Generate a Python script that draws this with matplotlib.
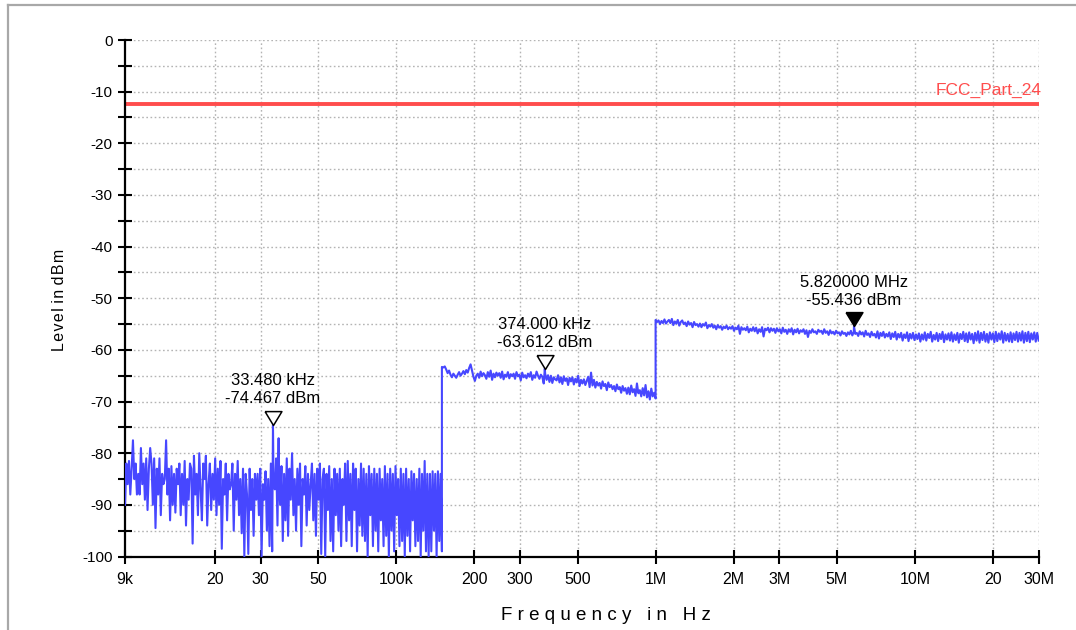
import numpy as np
import matplotlib
matplotlib.use("Agg")
import matplotlib.pyplot as plt
from matplotlib.lines import Line2D

plt.rcParams['font.family'] = ['Liberation Sans', 'DejaVu Sans']

# ---------------- data ----------------
# segment 1: 9 kHz .. 150 kHz (noise floor), levels in dBm
seg1_start, seg1_stop = 9e3, 150e3
seg1_levels = [
    -90, -82, -86, -81.5, -88, -83, -77.5, -85, -82, -88,
    -84, -88, -79, -86, -82, -89, -81, -91, -83, -79,
    -82, -90, -81, -94.5, -83, -88, -81, -92, -84, -86,
    -85, -77.5, -88, -83, -93, -82.5, -90, -84, -91.5, -83,
    -86, -82, -92, -84, -90, -81.5, -94, -85, -89, -82,
    -83, -97.5, -80.5, -88, -84, -92, -80, -87, -93, -82,
    -85, -80.5, -94, -86, -82, -91, -84, -89, -81, -92,
    -83, -90, -81.5, -98.5, -85, -88, -82, -93, -84, -87,
    -86, -82, -95, -84, -89, -81.5, -92, -85, -95.5, -83,
    -100, -84, -88, -99.5, -83, -91, -85, -96, -84, -89,
    -84, -92, -83, -100, -86, -89, -83.5, -95, -85, -98,
    -82, -99, -85, -87, -81, -94, -84, -90, -82.5, -97,
    -84, -93, -81, -96, -83, -89, -80, -92, -85, -95,
    -83, -90, -82, -98, -85, -88, -82.5, -94, -84, -91,
    -86, -82, -93, -84, -96, -83, -89, -82, -99.5, -85,
    -83, -100, -84, -91, -82.5, -97, -85, -99, -83, -92,
    -84, -95, -83, -98, -85, -90, -82, -97, -81.5, -93,
    -84, -98, -82, -91, -83, -99, -85, -94, -82, -96,
    -83, -97, -84, -100, -82.5, -92, -84, -98, -83, -95,
    -84, -99, -83, -93, -85, -98, -82.5, -96, -84, -100,
    -83, -95, -84, -99, -82.5, -92, -85, -98, -83, -97,
    -84, -100, -83, -96, -85, -99, -83.5, -93, -84, -98,
    -85, -97, -83, -100, -84, -95, -81.5, -99, -84, -100,
    -84, -99, -83.5, -95, -84, -100, -83.5, -97, -84, -99,
]

# segment 2: 150 kHz .. 1 MHz
seg2_start, seg2_stop = 150e3, 1e6
seg2_levels = [
    -63.3, -63.4, -63.2, -63.8, -64.5, -64.0, -64.8, -65.3, -64.6, -65.0,
    -65.4, -64.8, -64.3, -65.0, -64.6, -64.1, -64.7, -63.9, -64.4, -63.5,
    -62.8, -64.0, -65.2, -66.0, -65.0, -64.6, -65.4, -64.2, -65.1, -64.5,
    -64.9, -65.6, -64.3, -65.2, -64.0, -65.8, -64.6, -65.3, -64.4, -65.0,
    -64.5, -65.4, -64.2, -65.7, -64.8, -65.2, -64.3, -65.5, -64.7, -65.1,
    -64.6, -65.6, -64.3, -65.1, -64.8, -65.9, -64.4, -65.3, -64.9, -65.5,
    -64.6, -65.2, -64.3, -65.8, -64.9, -65.4, -64.2, -65.0, -65.6, -64.8,
    -65.2, -66.5, -64.6, -65.8, -64.9, -66.2, -65.0, -66.4, -65.3, -65.7,
    -65.9, -64.9, -66.3, -65.3, -66.6, -65.1, -66.0, -65.5, -66.8, -65.4,
    -66.1, -65.3, -66.7, -65.6, -66.3, -65.0, -67.0, -65.8, -66.5, -65.7,
    -66.8, -66.0, -65.2, -67.2, -64.4, -66.9, -65.8, -67.3, -66.2, -66.9,
    -66.4, -67.5, -66.1, -67.0, -66.6, -67.8, -66.3, -67.2, -66.8, -67.6,
    -67.0, -68.0, -66.7, -67.6, -67.2, -68.3, -67.0, -67.9, -67.4, -68.5,
    -67.3, -68.6, -66.9, -68.2, -67.6, -68.9, -66.5, -68.4, -67.8, -69.0,
    -67.4, -68.8, -66.8, -69.2, -68.0, -69.6, -67.5, -69.0, -68.3, -69.4,
]

# segment 3: 1 MHz .. 30 MHz
seg3_start, seg3_stop = 1e6, 30e6
seg3_levels = [
    -54.2, -54.6, -54.3, -55.0, -54.4, -54.8, -54.1, -54.9, -54.5, -54.2,
    -54.8, -54.0, -55.2, -54.5, -54.9, -54.2, -55.3, -54.6, -54.3, -55.0,
    -54.7, -55.4, -54.5, -55.1, -54.8, -55.6, -54.6, -55.2, -55.0, -55.5,
    -54.9, -55.6, -55.0, -55.3, -54.7, -55.8, -55.2, -55.5, -55.0, -55.7,
    -55.3, -56.0, -55.2, -55.7, -55.4, -56.1, -55.5, -55.8, -55.3, -56.0,
    -55.6, -55.9, -55.4, -56.3, -55.7, -56.0, -55.3, -56.9, -55.6, -56.1,
    -55.8, -56.2, -55.5, -56.6, -55.9, -56.3, -55.6, -56.4, -55.7, -56.8,
    -56.0, -56.5, -55.6, -57.4, -55.9, -56.2, -55.7, -56.6, -55.8, -56.3,
    -55.9, -56.7, -55.8, -56.4, -56.0, -56.8, -55.7, -56.5, -56.1, -56.9,
    -56.0, -56.5, -55.8, -57.0, -56.1, -56.6, -55.9, -56.8, -56.2, -56.5,
    -56.0, -56.9, -56.2, -57.5, -56.3, -56.7, -56.0, -56.6, -56.4, -56.9,
    -56.1, -56.5, -56.3, -56.9, -56.0, -56.7, -56.4, -57.1, -56.2, -56.8,
    -56.5, -57.0, -56.3, -56.8, -56.6, -57.2, -56.4, -56.9, -56.7, -57.3,
    -56.6, -57.0, -56.3, -57.2, -56.5, -56.9, -56.7, -57.3, -56.4, -57.0,
    -56.6, -57.4, -56.3, -57.1, -56.8, -57.5, -56.5, -57.2, -56.9, -57.6,
    -56.4, -57.8, -56.7, -57.3, -56.5, -57.6, -56.9, -57.4, -56.6, -57.9,
    -56.8, -57.5, -56.5, -58.0, -56.9, -57.6, -56.7, -58.2, -57.0, -57.7,
    -56.6, -58.3, -56.9, -57.8, -56.7, -58.1, -57.0, -57.9, -56.8, -58.4,
    -57.0, -58.0, -56.6, -58.2, -56.9, -57.7, -56.5, -58.4, -57.1, -58.0,
    -56.7, -58.3, -56.9, -57.9, -56.5, -58.5, -57.0, -58.0, -56.8, -58.2,
    -56.6, -58.4, -57.0, -58.1, -56.7, -58.6, -56.9, -57.9, -56.5, -58.3,
    -56.8, -58.5, -56.6, -58.0, -56.9, -58.7, -56.7, -58.2, -56.4, -58.6,
    -56.7, -58.1, -56.5, -58.4, -56.9, -58.6, -56.6, -58.0, -56.8, -58.5,
    -56.5, -58.3, -56.8, -58.0, -56.4, -58.6, -56.7, -58.2, -56.9, -58.4,
    -56.6, -58.5, -56.8, -58.1, -56.5, -58.4, -56.7, -58.2, -56.4, -58.6,
    -56.7, -58.3, -56.5, -58.5, -56.8, -58.0, -56.6, -58.4, -56.7, -58.2,
]

# discrete spikes / marker peaks
spike_freqs = [33.48e3, 35.2e3, 374e3, 5.82e6]
spike_levels = [-74.467, -77.1, -63.612, -55.436]

# markers
marker_freqs = [33.48e3, 374e3, 5.82e6]
marker_levels = [-74.467, -63.612, -55.436]
marker_labels = ["33.480 kHz\n-74.467 dBm", "374.000 kHz\n-63.612 dBm",
                 "5.820000 MHz\n-55.436 dBm"]
marker_filled = [False, False, True]

limit_level = -12.4
limit_name = "FCC_Part_24"

xtick_vals = [9e3, 20e3, 30e3, 50e3, 100e3, 200e3, 300e3, 500e3,
              1e6, 2e6, 3e6, 5e6, 10e6, 20e6, 30e6]
xtick_labels = ['9k', '20', '30', '50', '100k', '200', '300', '500',
                '1M', '2M', '3M', '5M', '10M', '20', '30M']
ytick_vals = list(range(0, -101, -5))
ytick_labels = [str(v) if v % 10 == 0 else '' for v in ytick_vals]

# ---------------- build trace ----------------
f1 = np.geomspace(seg1_start, seg1_stop, len(seg1_levels))
f2 = np.geomspace(seg2_start, seg2_stop, len(seg2_levels))
f3 = np.geomspace(seg3_start, seg3_stop, len(seg3_levels))
freq = np.concatenate([f1, f2, f3, spike_freqs])
lev = np.concatenate([seg1_levels, seg2_levels, seg3_levels, spike_levels])
order = np.argsort(freq, kind='stable')
freq, lev = freq[order], lev[order]

# ---------------- figure ----------------
W, H = 1076, 630
fig = plt.figure(figsize=(W / 100, H / 100), dpi=100)
fig.patch.set_facecolor('white')

# outer frame (top and left)
fig.add_artist(Line2D([8 / W, 8 / W], [0, 1 - 5 / H], transform=fig.transFigure,
                      color='#a8a8a8', lw=1.6))
fig.add_artist(Line2D([8 / W, 1], [1 - 5 / H, 1 - 5 / H], transform=fig.transFigure,
                      color='#a8a8a8', lw=1.6))

L, R, T, B = 125, 1038.7, 40, 556.5
ax = fig.add_axes([L / W, 1 - B / H, (R - L) / W, (B - T) / H])
ax.set_xscale('log')
ax.set_xlim(9e3, 30e6)
ax.set_ylim(-100, 0)

# grid
for xv in xtick_vals[1:]:
    ax.axvline(xv, color='#b4b4b4', lw=1.0, ls=(0, (1.2, 1.8)), zorder=0)
for yv in ytick_vals[:-1]:
    ax.axhline(yv, color='#b4b4b4', lw=1.0, ls=(0, (1.2, 1.8)), zorder=0)

# limit line
ax.axhline(limit_level, color='#ff4d4d', lw=2.8, zorder=2)
ax.text(1.003, limit_level + 1.1, limit_name, transform=ax.get_yaxis_transform(),
        ha='right', va='bottom', color='#ff4d4d', fontsize=12.5)

# trace
ax.plot(freq, lev, color='#4747ff', lw=1.5, zorder=3)

# markers
tri = [(-8.5, 14.0), (8.5, 14.0), (0.0, 0.0), (-8.5, 14.0)]
for mf, ml, txt, filled in zip(marker_freqs, marker_levels, marker_labels, marker_filled):
    ax.plot([mf], [ml], marker=tri, markersize=20, markeredgewidth=1.1,
            markeredgecolor='black', markerfacecolor='black' if filled else 'white',
            zorder=5, clip_on=False)
    ax.annotate(txt, (mf, ml), xytext=(0, 13.5), textcoords='offset points',
                ha='center', va='bottom', fontsize=12, linespacing=1.25,
                color='black', zorder=6)

# axes styling
for s in ['top', 'right']:
    ax.spines[s].set_visible(False)
for s in ['left', 'bottom']:
    ax.spines[s].set_linewidth(1.6)
    ax.spines[s].set_color('black')

ax.set_xticks(xtick_vals)
ax.set_xticklabels(xtick_labels)
ax.xaxis.set_minor_locator(matplotlib.ticker.NullLocator())
ax.set_yticks(ytick_vals)
ax.set_yticklabels(ytick_labels)
ax.tick_params(axis='x', direction='inout', length=10, width=1.5, pad=6,
               labelsize=11.5, colors='black')
ax.tick_params(axis='y', direction='inout', length=10, width=1.5, pad=4,
               labelsize=11, colors='black')

hs = '\u200a'
ylab = hs.join('Level') + ' ' + hs.join('in') + ' ' + hs.join('dBm')
fig.text(60 / W, 1 - 300 / H, ylab, rotation=90,
         ha='center', va='center', fontsize=11.5)
fig.text(606 / W, 1 - 615 / H, 'F r e q u e n c y   i n   H z',
         ha='center', va='center', fontsize=13.5)

fig.savefig('out.png', dpi=100, facecolor='white')
